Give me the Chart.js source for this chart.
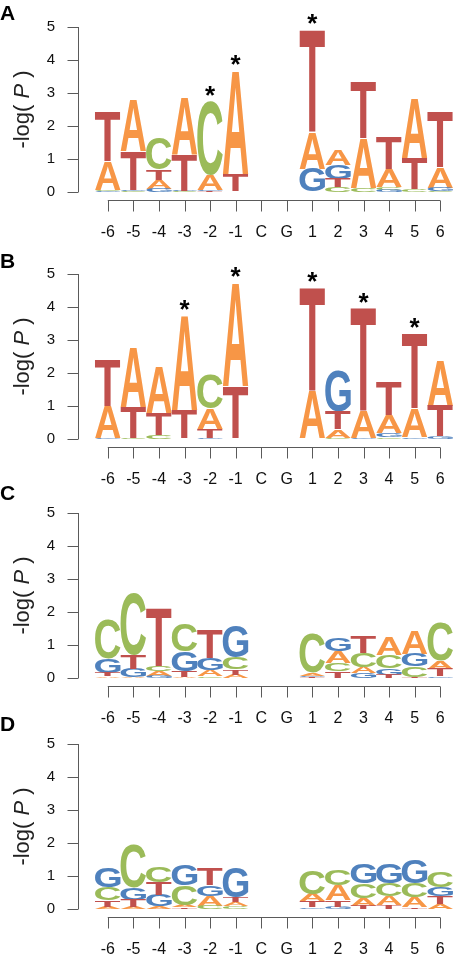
<!DOCTYPE html>
<html>
<head>
<meta charset="utf-8">
<script src="https://cdn.jsdelivr.net/npm/chart.js@4"></script>
<style>
  html, body { margin: 0; padding: 0; background: #fff; overflow: hidden; width: 453px; height: 960px; }
  body { position: relative; }
  .panel { position: absolute; left: 0; width: 453px; height: 252px; }
</style>
</head>
<body>
<div class="panel" style="top:-10px"><canvas id="logoA" width="453" height="252"></canvas></div>
<div class="panel" style="top:237px"><canvas id="logoB" width="453" height="252"></canvas></div>
<div class="panel" style="top:476px"><canvas id="logoC" width="453" height="252"></canvas></div>
<div class="panel" style="top:707px"><canvas id="logoD" width="453" height="252"></canvas></div>
<script>
// posiciones y ticks
const positions = ['-6', '-5', '-4', '-3', '-2', '-1', 'C', 'G', '1', '2', '3', '4', '5', '6'];
const yTicks = [0, 1, 2, 3, 4, 5];

// panel A
const aA = [0.88, 1.57, 0.27, 1.72, 0.45, 3.15, 0, 0, 1.10, 0.46, 1.50, 0.55, 1.79, 0.63];
const aC = [0.03, 0.02, 0.96, 0.02, 2.24, 0.01, 0, 0, 0.01, 0.14, 0.12, 0.09, 0.09, 0.02];
const aG = [0.02, 0.04, 0.10, 0.02, 0.05, 0.01, 0, 0, 0.70, 0.42, 0.01, 0.06, 0.01, 0.11];
const aT = [1.50, 1.18, 0.32, 1.10, 0.02, 0.52, 0, 0, 3.12, 0.26, 1.72, 0.98, 0.93, 1.68];
const starsA = ['-2', '-1', '1'];

// panel B
const bA = [0.98, 1.82, 1.42, 2.88, 0.63, 3.16, 0, 0, 1.44, 0.25, 0.82, 0.55, 0.87, 1.38];
const bC = [0.01, 0.02, 0.12, 0.01, 1.03, 0.01, 0, 0, 0.01, 0.04, 0.01, 0.05, 0.01, 0.01];
const bG = [0.02, 0.01, 0.01, 0.01, 0.03, 0.01, 0, 0, 0.01, 1.25, 0.02, 0.13, 0.05, 0.07];
const bT = [1.42, 0.95, 0.66, 0.86, 0.27, 1.59, 0, 0, 3.14, 0.54, 3.13, 1.00, 2.29, 0.93];
const starsB = ['-3', '-1', '1', '3', '5'];

// panel C
const cA = [0.05, 0.02, 0.14, 0.02, 0.20, 0.10, 0, 0, 0.08, 0.35, 0.18, 0.56, 0.70, 0.24];
const cC = [1.18, 1.87, 0.15, 0.83, 0.05, 0.35, 0, 0, 1.21, 0.25, 0.42, 0.40, 0.31, 1.14];
const cG = [0.43, 0.26, 0.06, 0.60, 0.35, 0.97, 0, 0, 0.05, 0.38, 0.15, 0.20, 0.38, 0.05];
const cT = [0.10, 0.42, 1.76, 0.18, 0.86, 0.17, 0, 0, 0.02, 0.20, 0.51, 0.10, 0.04, 0.23];
const starsC = [];

// panel D
const dA = [0.07, 0.06, 0.08, 0.07, 0.30, 0.12, 0, 0, 0.22, 0.45, 0.23, 0.26, 0.30, 0.14];
const dC = [0.40, 1.30, 0.47, 0.60, 0.10, 0.08, 0, 0, 0.72, 0.47, 0.44, 0.40, 0.43, 0.49];
const dG = [0.58, 0.37, 0.34, 0.64, 0.32, 0.92, 0, 0, 0.05, 0.07, 0.59, 0.58, 0.73, 0.27];
const dT = [0.20, 0.22, 0.40, 0.05, 0.52, 0.15, 0, 0, 0.18, 0.20, 0.10, 0.12, 0.05, 0.24];
const starsD = [];

const colores = { A: '#F79646', C: '#9BBB59', G: '#4F81BD', T: '#C0504D' };
const bases = ['A', 'C', 'G', 'T'];
const ejeColor = '#5a5a5a';
const fuente = '"Liberation Sans", Arial, sans-serif';

// apila las letras de menor a mayor en cada posicion
function armarTramos(valores) {
  const tramos = { A: [], C: [], G: [], T: [] };
  positions.forEach((p, j) => {
    let acum = 0;
    bases.slice().sort((a, b) => valores[a][j] - valores[b][j]).forEach(b => {
      tramos[b][j] = [acum, acum + valores[b][j]];
      acum += valores[b][j];
    });
  });
  return tramos;
}

function dibujarLetra(ctx, letra, x0, y0, w, h, color) {
  if (h < 0.4 || w < 1) return;
  ctx.save();
  ctx.font = 'bold 100px ' + fuente;
  const m = ctx.measureText(letra);
  const gw = m.actualBoundingBoxLeft + m.actualBoundingBoxRight;
  const gh = m.actualBoundingBoxAscent + m.actualBoundingBoxDescent;
  ctx.translate(x0, y0);
  ctx.scale(w / gw, h / gh);
  ctx.fillStyle = color;
  ctx.textBaseline = 'alphabetic';
  ctx.textAlign = 'left';
  ctx.fillText(letra, m.actualBoundingBoxLeft, m.actualBoundingBoxAscent);
  ctx.restore();
}

const logoPlugin = {
  id: 'logo',
  afterDatasetsDraw(chart, args, opts) {
    const ctx = chart.ctx;
    chart.data.datasets.forEach((ds, i) => {
      chart.getDatasetMeta(i).data.forEach(bar => {
        const top = Math.min(bar.y, bar.base);
        const bottom = Math.max(bar.y, bar.base);
        dibujarLetra(ctx, ds.label, bar.x - bar.width / 2, top, bar.width, bottom - top, colores[ds.label]);
      });
    });
  },
  afterDraw(chart, args, opts) {
    const ctx = chart.ctx;
    const xs = chart.scales.x, ys = chart.scales.y;
    const area = chart.chartArea;
    ctx.save();
    ctx.strokeStyle = ejeColor;
    ctx.lineWidth = 1;

    // eje y (estilo R)
    const ax = 78.5;
    ctx.beginPath();
    ctx.moveTo(ax, ys.getPixelForValue(yTicks[0]));
    ctx.lineTo(ax, ys.getPixelForValue(yTicks[yTicks.length - 1]));
    yTicks.forEach(v => {
      const py = Math.round(ys.getPixelForValue(v)) + 0.5;
      ctx.moveTo(ax - 11, py);
      ctx.lineTo(ax, py);
    });
    ctx.stroke();

    // eje x
    const ay = Math.round(area.bottom + 8) + 0.5;
    ctx.beginPath();
    ctx.moveTo(xs.getPixelForValue(0), ay);
    ctx.lineTo(xs.getPixelForValue(positions.length - 1), ay);
    positions.forEach((p, j) => {
      const px = Math.round(xs.getPixelForValue(j)) + 0.5;
      ctx.moveTo(px, ay);
      ctx.lineTo(px, ay + 11);
    });
    ctx.stroke();

    // titulo eje y: -log( P )
    ctx.fillStyle = '#222';
    ctx.translate(29, (area.top + area.bottom) / 2);
    ctx.rotate(-Math.PI / 2);
    ctx.textBaseline = 'alphabetic';
    const partes = [['-log( ', '22px ' + fuente], ['P', 'italic 22px ' + fuente], [' )', '22px ' + fuente]];
    let total = 0;
    partes.forEach(pt => { ctx.font = pt[1]; total += ctx.measureText(pt[0]).width; });
    let cx = -total / 2;
    partes.forEach(pt => {
      ctx.font = pt[1];
      ctx.fillText(pt[0], cx, 0);
      cx += ctx.measureText(pt[0]).width;
    });
    ctx.restore();

    // letra del panel
    ctx.save();
    ctx.fillStyle = '#000';
    ctx.font = 'bold 21px ' + fuente;
    ctx.textBaseline = 'alphabetic';
    ctx.fillText(opts.titulo, 0, opts.tituloY);

    // asteriscos
    ctx.font = 'bold 26px ' + fuente;
    ctx.textAlign = 'center';
    opts.estrellas.forEach(p => {
      const j = positions.indexOf(p);
      let suma = 0;
      chart.data.datasets.forEach(ds => { suma = Math.max(suma, ds.data[j][1]); });
      ctx.fillText('*', xs.getPixelForValue(j), ys.getPixelForValue(suma) + 3);
    });
    ctx.restore();
  }
};

function crearLogo(id, valores, titulo, tituloY, estrellas) {
  const tramos = armarTramos(valores);
  return new Chart(document.getElementById(id).getContext('2d'), {
    type: 'bar',
    data: {
      labels: positions,
      datasets: bases.map(b => ({
        label: b,
        data: tramos[b],
        backgroundColor: 'rgba(0,0,0,0)',
        borderWidth: 0,
        grouped: false,
        barPercentage: 1,
        categoryPercentage: 1
      }))
    },
    options: {
      responsive: false,
      animation: false,
      layout: { padding: { top: 37, left: 0, right: 0, bottom: 0 } },
      plugins: {
        legend: { display: false },
        tooltip: { enabled: false },
        logo: { titulo: titulo, tituloY: tituloY, estrellas: estrellas }
      },
      scales: {
        x: {
          type: 'category',
          grid: { display: false, drawTicks: false },
          border: { display: false },
          ticks: { padding: 31, color: '#111', font: { size: 16, family: fuente }, maxRotation: 0, autoSkip: false },
          afterFit: s => { s.height = 50; s.paddingLeft = 0; s.paddingRight = 0; }
        },
        y: {
          min: 0,
          max: 5,
          afterBuildTicks: s => { s.ticks = yTicks.map(v => ({ value: v })); },
          grid: { display: false, drawTicks: false },
          border: { display: false },
          ticks: { padding: 40, color: '#111', font: { size: 15, family: fuente } },
          afterFit: s => { s.width = 95; s.paddingTop = 0; s.paddingBottom = 0; }
        }
      }
    },
    plugins: [logoPlugin]
  });
}

crearLogo('logoA', { A: aA, C: aC, G: aG, T: aT }, 'A', 30, starsA);
crearLogo('logoB', { A: bA, C: bC, G: bG, T: bT }, 'B', 31, starsB);
crearLogo('logoC', { A: cA, C: cC, G: cG, T: cT }, 'C', 24, starsC);
crearLogo('logoD', { A: dA, C: dC, G: dG, T: dT }, 'D', 24, starsD);
</script>
</body>
</html>
